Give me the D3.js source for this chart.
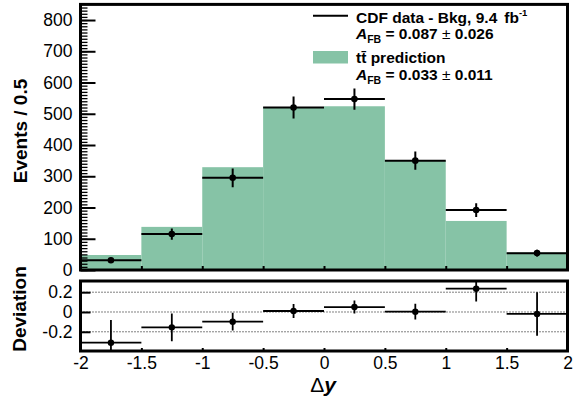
<!DOCTYPE html>
<html><head><meta charset="utf-8">
<script src="https://cdn.jsdelivr.net/npm/d3@7"></script>
<style>
body{margin:0;background:#fff;}
svg{display:block;font-family:"Liberation Sans",Arial,Helvetica,sans-serif;}
</style>
</head><body>
<svg id="c" width="573" height="407"></svg>
<script>
// ---- data ----
const binEdges = [-2, -1.5, -1, -0.5, 0, 0.5, 1, 1.5, 2];
const prediction = [48, 138, 329, 521, 524, 350, 157, 56];
const dataCounts = [31, 115, 295, 520, 547, 350, 192, 54];
const dataErrors = [8, 18, 30, 35, 34, 29, 22, 11];
const deviation = [-0.31, -0.155, -0.098, 0.01, 0.05, 0.003, 0.235, -0.02];
const deviationErrors = [0.23, 0.14, 0.09, 0.07, 0.065, 0.08, 0.13, 0.22];
const xTicks = [-2, -1.5, -1, -0.5, 0, 0.5, 1, 1.5, 2];
const yTicksTop = [0, 100, 200, 300, 400, 500, 600, 700, 800];
const yTicksBottom = [-0.2, 0, 0.2];
const dottedLevels = [-0.2, 0, 0.2];

const svg = d3.select("#c");
const GREEN = "#86c3a6";

const x = d3.scaleLinear().domain([-2, 2]).range([80.5, 567.5]);
const yT = d3.scaleLinear().domain([0, 850]).range([270, 4.4]);
const yB = d3.scaleLinear().domain([-0.394, 0.313]).range([351, 281]);

const bins = prediction.map((p, i) => ({
  lo: binEdges[i], hi: binEdges[i + 1], c: (binEdges[i] + binEdges[i + 1]) / 2,
  pred: p, val: dataCounts[i], err: dataErrors[i], dev: deviation[i], derr: deviationErrors[i]
}));

const defs = svg.append("defs");
defs.append("clipPath").attr("id", "clipT").append("rect")
  .attr("x", x(-2)).attr("y", yT(850)).attr("width", x(2) - x(-2)).attr("height", yT(0) - yT(850));
defs.append("clipPath").attr("id", "clipB").append("rect")
  .attr("x", x(-2)).attr("y", yB(0.313)).attr("width", x(2) - x(-2)).attr("height", yB(-0.394) - yB(0.313));

// ---- top panel ----
const gT = svg.append("g").attr("clip-path", "url(#clipT)");
gT.selectAll("rect.h").data(bins).join("rect")
  .attr("x", d => x(d.lo)).attr("width", d => x(d.hi) - x(d.lo))
  .attr("y", d => yT(d.pred)).attr("height", d => yT(0) - yT(d.pred))
  .attr("fill", GREEN);
gT.selectAll("line.hx").data(bins).join("line")
  .attr("x1", d => x(d.lo)).attr("x2", d => x(d.hi))
  .attr("y1", d => yT(d.val)).attr("y2", d => yT(d.val))
  .attr("stroke", "#000").attr("stroke-width", 2);
gT.selectAll("line.ey").data(bins).join("line")
  .attr("x1", d => x(d.c)).attr("x2", d => x(d.c))
  .attr("y1", d => yT(d.val - d.err)).attr("y2", d => yT(d.val + d.err))
  .attr("stroke", "#000").attr("stroke-width", 2);
gT.selectAll("circle").data(bins).join("circle")
  .attr("cx", d => x(d.c)).attr("cy", d => yT(d.val)).attr("r", 3.3).attr("fill", "#000");

// ---- bottom panel ----
const gB = svg.append("g").attr("clip-path", "url(#clipB)");
gB.selectAll("line.dot").data(dottedLevels).join("line")
  .attr("x1", x(-2)).attr("x2", x(2))
  .attr("y1", d => yB(d)).attr("y2", d => yB(d))
  .attr("stroke", "#000").attr("stroke-width", 1).attr("stroke-dasharray", "1,2");
gB.selectAll("line.hx").data(bins).join("line")
  .attr("x1", d => x(d.lo)).attr("x2", d => x(d.hi))
  .attr("y1", d => yB(d.dev)).attr("y2", d => yB(d.dev))
  .attr("stroke", "#000").attr("stroke-width", 1.8);
gB.selectAll("line.ey").data(bins).join("line")
  .attr("x1", d => x(d.c)).attr("x2", d => x(d.c))
  .attr("y1", d => yB(d.dev - d.derr)).attr("y2", d => yB(d.dev + d.derr))
  .attr("stroke", "#000").attr("stroke-width", 1.8);
gB.selectAll("circle").data(bins).join("circle")
  .attr("cx", d => x(d.c)).attr("cy", d => yB(d.dev)).attr("r", 3.2).attr("fill", "#000");

// ---- axes ----
const fmt = d => String(d);
function styleAxis(g) {
  g.select(".domain").remove();
  g.attr("font-family", null).attr("font-size", null);
  g.selectAll("text").attr("font-size", "17.5px").attr("fill", "#000")
    .attr("font-family", '"Liberation Sans",Arial,sans-serif');
  g.selectAll("line").attr("stroke", "#000");
}
// top y minor
svg.append("g").attr("transform", `translate(${x(-2)},0)`)
  .call(d3.axisLeft(yT).tickValues(d3.range(0, 850, 10)).tickSizeInner(-7).tickSizeOuter(0).tickFormat(""))
  .call(styleAxis).selectAll("line").attr("stroke-width", 1.3);
// top y major
svg.append("g").attr("transform", `translate(${x(-2)},0)`)
  .call(d3.axisLeft(yT).tickValues(yTicksTop).tickSizeInner(-15).tickSizeOuter(0).tickPadding(8).tickFormat(fmt))
  .call(styleAxis).selectAll("line").attr("stroke-width", 2);
// top x ticks
svg.append("g").attr("transform", `translate(0,${yT(0)})`)
  .call(d3.axisBottom(x).tickValues(xTicks).tickSizeInner(-4).tickSizeOuter(0).tickFormat(""))
  .call(styleAxis).selectAll("line").attr("stroke-width", 2);
// bottom y
svg.append("g").attr("transform", `translate(${x(-2)},0)`)
  .call(d3.axisLeft(yB).tickValues(yTicksBottom).tickSizeInner(-10).tickSizeOuter(0).tickPadding(8).tickFormat(fmt))
  .call(styleAxis).selectAll("line").attr("stroke-width", 2);
// bottom x
svg.append("g").attr("transform", `translate(0,351)`)
  .call(d3.axisBottom(x).tickValues(xTicks).tickSizeInner(-3).tickSizeOuter(0).tickPadding(6).tickFormat(fmt))
  .call(styleAxis).selectAll("line").attr("stroke-width", 2);

// ---- frames ----
svg.append("rect").attr("x", x(-2)).attr("y", yT(850)).attr("width", x(2) - x(-2)).attr("height", yT(0) - yT(850))
  .attr("fill", "none").attr("stroke", "#000").attr("stroke-width", 3);
svg.append("rect").attr("x", x(-2)).attr("y", yB(0.313)).attr("width", x(2) - x(-2)).attr("height", yB(-0.394) - yB(0.313))
  .attr("fill", "none").attr("stroke", "#000").attr("stroke-width", 3);

// ---- axis titles ----
svg.append("text").attr("transform", "translate(27,131) rotate(-90)").attr("text-anchor", "middle")
  .attr("font-weight", "bold").attr("font-size", "19px").text("Events / 0.5");
svg.append("text").attr("transform", "translate(26,309) rotate(-90)").attr("text-anchor", "middle")
  .attr("font-weight", "bold").attr("font-size", "19px").text("Deviation");
const xt = svg.append("text").attr("x", 323).attr("y", 392).attr("text-anchor", "middle").attr("font-size", "21px");
xt.append("tspan").text("Δ");
xt.append("tspan").attr("font-weight", "bold").attr("font-style", "italic").text("y");

// ---- legend ----
const LX = 356, FS = 15.5;
svg.append("line").attr("x1", 313).attr("x2", 348).attr("y1", 15.7).attr("y2", 15.7)
  .attr("stroke", "#000").attr("stroke-width", 2);
svg.append("rect").attr("x", 313).attr("y", 51).attr("width", 35).attr("height", 12.5).attr("fill", GREEN);
function afb(yb, val) {
  const t = svg.append("text").attr("x", LX).attr("y", yb).attr("font-size", FS + "px").attr("font-weight", "bold");
  t.append("tspan").attr("font-style", "italic").text("A");
  t.append("tspan").attr("font-size", "10.5px").attr("dy", 4).text("FB");
  t.append("tspan").attr("dy", -4).text(" = " + val[0] + " ");
  t.append("tspan").attr("font-weight", "normal").text("±");
  t.append("tspan").text(" " + val[1]);
}
const l1 = svg.append("text").attr("x", LX).attr("y", 23).attr("font-size", FS + "px").attr("font-weight", "bold");
l1.append("tspan").text("CDF data - Bkg, 9.4");
l1.append("tspan").attr("dx", 7).text("fb");
l1.append("tspan").attr("font-size", "9.5px").attr("dy", -7).text("-1");
afb(39, ["0.087", "0.026"]);
svg.append("text").attr("x", LX).attr("y", 63).attr("font-size", FS + "px").attr("font-weight", "bold")
  .text("tt\u0304 prediction");
afb(80, ["0.033", "0.011"]);
</script>
</body></html>
